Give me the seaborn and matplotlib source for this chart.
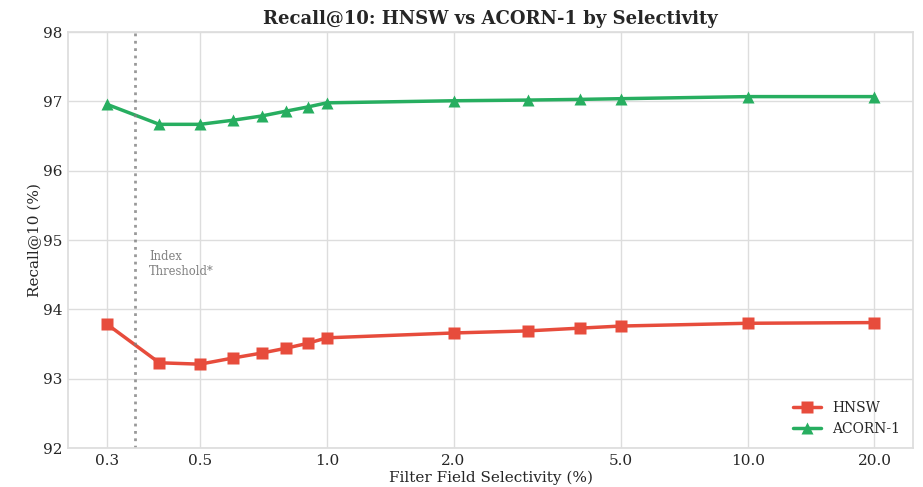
import numpy as np
import pandas as pd
import seaborn as sns
import matplotlib.pyplot as plt

selectivity = [0.3, 0.4, 0.5, 0.6, 0.7, 0.8, 0.9, 1.0, 2.0, 3.0, 4.0, 5.0, 10.0, 20.0]
hnsw = [93.79, 93.23, 93.21, 93.30, 93.37, 93.44, 93.51, 93.59, 93.66, 93.69, 93.73, 93.76, 93.80, 93.81]
acorn = [96.96, 96.67, 96.67, 96.73, 96.79, 96.86, 96.92, 96.98, 97.01, 97.02, 97.03, 97.04, 97.07, 97.07]
tick_vals = [0.3, 0.5, 1.0, 2.0, 5.0, 10.0, 20.0]
tick_labels = ['0.3', '0.5', '1.0', '2.0', '5.0', '10.0', '20.0']
threshold = 0.35


def main():
    sns.set_theme(style='whitegrid', rc={'grid.color': '#dddddd', 'axes.edgecolor': '#dddddd'})
    plt.rcParams['font.family'] = ['DejaVu Serif']

    df = pd.concat([
        pd.DataFrame({'sel': selectivity, 'recall': hnsw, 'method': 'HNSW'}),
        pd.DataFrame({'sel': selectivity, 'recall': acorn, 'method': 'ACORN-1'}),
    ], ignore_index=True)

    fig, ax = plt.subplots(figsize=(9.23, 4.87), dpi=100)
    sns.lineplot(data=df, x='sel', y='recall', hue='method', style='method',
                 palette={'HNSW': '#e74c3c', 'ACORN-1': '#27ae60'},
                 markers={'HNSW': 's', 'ACORN-1': '^'}, dashes=False,
                 linewidth=2.5, markersize=9, markeredgecolor='none', ax=ax)

    ax.set_xscale('log')
    ax.set_xticks(tick_vals)
    ax.set_xticklabels(tick_labels)
    ax.minorticks_off()
    ax.set_ylim(92, 98)

    ax.axvline(threshold, color='gray', linestyle=':', linewidth=2, alpha=0.8)
    ax.text(0.378, 94.65, 'Index\nThreshold*', fontsize=8.3, color='gray',
            va='center', ha='left')

    ax.set_title('Recall@10: HNSW vs ACORN-1 by Selectivity', fontsize=13, fontweight='bold')
    ax.set_xlabel('Filter Field Selectivity (%)', fontsize=11, labelpad=2)
    ax.set_ylabel('Recall@10 (%)', fontsize=11, labelpad=1)
    ax.tick_params(labelsize=11, length=0, pad=4)
    ax.legend(title=None, loc='lower right', frameon=False, fontsize=10)

    fig.subplots_adjust(left=0.074, right=0.989, top=0.934, bottom=0.08)
    fig.savefig('out.png', dpi=100)


if __name__ == '__main__':
    main()
